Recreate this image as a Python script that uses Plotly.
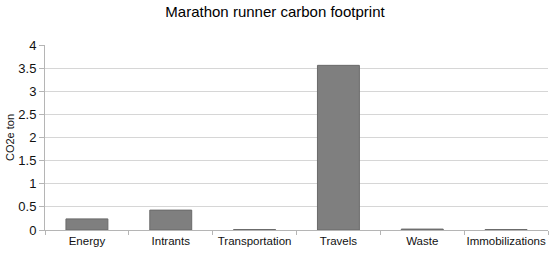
import plotly.graph_objects as go

categories = ["Energy", "Intrants", "Transportation", "Travels", "Waste", "Immobilizations"]
values = [0.24, 0.43, 0.01, 3.56, 0.02, 0.01]
y_ticks = [0, 0.5, 1, 1.5, 2, 2.5, 3, 3.5, 4]
y_tick_labels = ["0", "0.5", "1", "1.5", "2", "2.5", "3", "3.5", "4"]

fig = go.Figure(go.Bar(
    x=categories, y=values,
    marker=dict(color="#7f7f7f", line=dict(color="#6a6a6a", width=1)),
    width=0.5,
))

fig.update_layout(
    width=550, height=253,
    margin=dict(l=45, r=2, t=45, b=23),
    paper_bgcolor="white", plot_bgcolor="white",
    font=dict(family="Liberation Sans, Arial, sans-serif", color="#111111", size=12),
    title=dict(text="Marathon runner carbon footprint", x=0.5, xanchor="center",
               y=0.975, yanchor="top", font=dict(size=15, color="#000000")),
    showlegend=False,
    bargap=0.5,
)
fig.update_yaxes(
    range=[0, 4], tickvals=y_ticks, ticktext=y_tick_labels,
    showgrid=True, gridcolor="#d6d6d6", gridwidth=1,
    showline=True, linecolor="#b5b5b5", linewidth=1,
    ticks="outside", ticklen=5, tickcolor="#b5b5b5",
    title=dict(text="CO2e ton", font=dict(size=11), standoff=1),
    tickfont=dict(size=13), zeroline=False, automargin=False,
)
fig.update_xaxes(
    showline=True, linecolor="#b5b5b5", linewidth=1,
    ticks="outside", ticklen=4, tickcolor="#b5b5b5", tickson="boundaries",
    tickfont=dict(size=11.5), showgrid=False, tickangle=0, automargin=False,
)
fig.write_html("out.html", config={"displayModeBar": False},
               post_script="document.body.style.margin='0';document.body.style.padding='0';")
